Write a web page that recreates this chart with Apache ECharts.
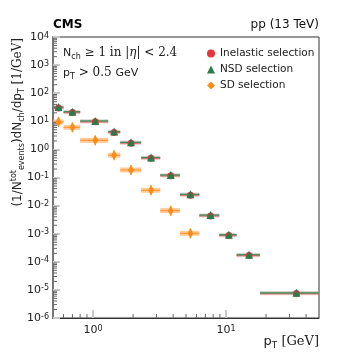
<!DOCTYPE html>
<html>
<head>
<meta charset="utf-8">
<script src="https://cdn.jsdelivr.net/npm/echarts@6/dist/echarts.min.js"></script>
<style>
  html, body { margin: 0; padding: 0; background: #fff; }
  #chart { width: 354px; height: 354px; }
</style>
</head>
<body>
<div id="chart"></div>
<script>
// pT bins (GeV)
var binLo = [0.5, 0.6, 0.8, 1.3, 1.6, 2.3, 3.2, 4.5, 6.3, 8.9, 12, 18]
var binHi = [0.6, 0.8, 1.3, 1.6, 2.3, 3.2, 4.5, 6.3, 8.9, 12, 18, 50]
var binCenter = [0.55, 0.7, 1.04, 1.44, 1.93, 2.73, 3.84, 5.4, 7.65, 10.5, 14.9, 33.8]

// (1/N) dN/dpT
var inelastic = [30, 20.5, 9.6, 4.0, 1.67, 0.48, 0.115, 0.0235, 0.0043, 0.00086, 0.000167, 0.0000074]
var nsd = [32, 22, 10.3, 4.3, 1.79, 0.515, 0.123, 0.0252, 0.0046, 0.00092, 0.000179, 0.0000079]
var sd = [9.5, 6.1, 2.1, 0.62, 0.185, 0.035, 0.0066, 0.00103]

var seriesNames = ['Inelastic selection', 'NSD selection', 'SD selection']

var sans = 'DejaVu Sans'
var serif = 'DejaVu Serif'

var chart = echarts.init(document.getElementById('chart'))

function rows (vals) {
  return vals.map(function (v, i) { return [binCenter[i], binLo[i], binHi[i], v] })
}

// horizontal bin-width bars, drawn through the axes
function barSeries (id, vals, core, band, bandWidth, vErr) {
  return {
    id: id,
    name: id,
    type: 'custom',
    z: 2,
    silent: true,
    encode: { x: [1, 2], y: 3 },
    data: rows(vals),
    renderItem: function (params, api) {
      var y = api.value(3)
      var p1 = api.coord([api.value(1), y])
      var p2 = api.coord([api.value(2), y])
      var pc = api.coord([api.value(0), y])
      var kids = [
        { type: 'line', shape: { x1: p1[0], y1: p1[1], x2: p2[0], y2: p2[1] }, style: { stroke: band, lineWidth: bandWidth } },
        { type: 'line', shape: { x1: p1[0], y1: p1[1], x2: p2[0], y2: p2[1] }, style: { stroke: core, lineWidth: 1.2 } }
      ]
      if (vErr) {
        kids.push({ type: 'line', shape: { x1: pc[0], y1: pc[1] - 5, x2: pc[0], y2: pc[1] + 5 }, style: { stroke: core, lineWidth: 1.5 } })
      }
      return { type: 'group', children: kids }
    }
  }
}

function pointSeries (name, vals, symbol, size, color) {
  return {
    name: name,
    type: 'scatter',
    z: 5,
    symbol: symbol,
    symbolSize: size,
    itemStyle: { color: color, opacity: 1 },
    data: vals.map(function (v, i) { return [binCenter[i], v] })
  }
}

function powLabel (value) {
  var e = Math.round(Math.log10(value))
  if (Math.abs(Math.log10(value) - e) > 1e-6) return ''
  return '10{sup|' + e + '}'
}

var labelRich = {
  sup: { fontSize: 8, verticalAlign: 'top', lineHeight: 8, fontFamily: sans, color: '#222' }
}

var textRich = {
  n: { fontSize: 11, fontFamily: sans, lineHeight: 15, fill: '#222' },
  m: { fontSize: 12, fontFamily: serif, lineHeight: 15, fill: '#222' },
  mi: { fontSize: 12, fontFamily: serif, fontStyle: 'italic', lineHeight: 15, fill: '#222' },
  sub: { fontSize: 8, fontFamily: sans, lineHeight: 8, verticalAlign: 'bottom', fill: '#222' }
}

var option = {
  backgroundColor: '#fff',
  animation: false,
  grid: {
    left: 53,
    right: 35,
    top: 37,
    bottom: 36,
    show: true,
    borderColor: '#333',
    borderWidth: 1,
    backgroundColor: 'transparent'
  },
  legend: {
    data: seriesNames,
    orient: 'vertical',
    left: 202,
    top: 41,
    itemWidth: 8,
    itemHeight: 8,
    itemGap: 1,
    textStyle: { fontSize: 10.5, fontFamily: sans, color: '#222', lineHeight: 15 }
  },
  xAxis: {
    type: 'log',
    logBase: 10,
    min: 0.5,
    max: 50,
    splitNumber: 2,
    splitLine: { show: false },
    axisLine: { lineStyle: { color: '#333', width: 1 } },
    axisTick: { inside: true, length: 8, lineStyle: { color: '#c8c8c8', width: 2 } },
    axisLabel: {
      formatter: powLabel,
      showMinLabel: false,
      showMaxLabel: false,
      margin: 7,
      fontSize: 11,
      fontFamily: sans,
      color: '#222',
      rich: labelRich
    }
  },
  yAxis: {
    type: 'log',
    logBase: 10,
    min: 1e-6,
    max: 1e4,
    interval: 1,
    splitLine: { show: false },
    axisLine: { lineStyle: { color: '#777', width: 2 } },
    axisTick: { inside: true, length: 7, lineStyle: { color: '#c8c8c8', width: 2 } },
    axisLabel: {
      formatter: powLabel,
      margin: 4,
      fontSize: 11,
      fontFamily: sans,
      color: '#222',
      rich: labelRich
    }
  },
  series: [
    barSeries('inel-bars', inelastic, '#e8484c', 'rgba(235,120,120,0.35)', 3.5, false),
    barSeries('nsd-bars', nsd, '#3d8a55', 'rgba(160,175,165,0.45)', 3.5, false),
    barSeries('sd-bars', sd, '#ff9a33', 'rgba(255,175,100,0.65)', 5, true),
    pointSeries('Inelastic selection', inelastic, 'circle', 7, '#e8323c'),
    pointSeries('NSD selection', nsd, 'triangle', 8, '#2f7a4a'),
    pointSeries('SD selection', sd, 'diamond', [6, 10], '#ff8c1a')
  ],
  graphic: [
    {
      type: 'text', left: 53, top: 19,
      style: { text: 'CMS', font: 'bold 12px "DejaVu Sans"', fill: '#000' }
    },
    {
      type: 'text', right: 35, top: 19,
      style: { text: 'pp (13 TeV)', font: '12px "DejaVu Sans"', fill: '#111' }
    },
    {
      type: 'text', x: 63, y: 53,
      style: {
        text: '{n|N}{sub|ch}{m| ≥ 1 in |}{mi|η}{m|| < 2.4}',
        verticalAlign: 'middle',
        rich: textRich
      }
    },
    {
      type: 'text', x: 63, y: 73,
      style: {
        text: '{n|p}{sub|T}{m| > 0.5 }{n|GeV}',
        verticalAlign: 'middle',
        rich: textRich
      }
    },
    {
      type: 'text', x: 319, y: 342,
      style: {
        text: '{n|p}{sub|T}{m| [GeV]}',
        align: 'right',
        verticalAlign: 'middle',
        rich: {
          n: { fontSize: 13, fontFamily: sans, lineHeight: 17, fill: '#222' },
          m: { fontSize: 13, fontFamily: serif, lineHeight: 17, fill: '#222' },
          sub: { fontSize: 9, fontFamily: sans, lineHeight: 9, verticalAlign: 'bottom', fill: '#222' }
        }
      }
    },
    {
      type: 'text', x: 18, y: 38, rotation: Math.PI / 2,
      style: {
        text: '{m|(1/N}{sup|tot}{sub|events}{m|)dN}{sub|ch}{m|/dp}{sub|T}{s| [1/GeV]}',
        align: 'right',
        verticalAlign: 'middle',
        rich: {
          m: { fontSize: 12, fontFamily: sans, lineHeight: 16, fill: '#222' },
          s: { fontSize: 12, fontFamily: serif, lineHeight: 16, fill: '#222' },
          sub: { fontSize: 8, fontFamily: sans, lineHeight: 8, verticalAlign: 'bottom', fill: '#222' },
          sup: { fontSize: 8, fontFamily: sans, lineHeight: 8, verticalAlign: 'top', fill: '#222' }
        }
      }
    }
  ]
}

chart.setOption(option)

// minor log ticks (2..9 per decade), placed with the chart's own scales
function minorTicks () {
  var els = []
  var xs = [0.6, 0.7, 0.8, 0.9, 2, 3, 4, 5, 6, 7, 8, 9, 20, 30, 40]
  var bottom = chart.convertToPixel({ gridIndex: 0 }, [1, 1e-6])[1]
  var left = chart.convertToPixel({ gridIndex: 0 }, [0.5, 1])[0]
  xs.forEach(function (v) {
    var px = chart.convertToPixel({ gridIndex: 0 }, [v, 1e-6])[0]
    els.push({ type: 'line', shape: { x1: px, y1: bottom, x2: px, y2: bottom - 4 }, style: { stroke: '#666', lineWidth: 1 }, z: 3 })
  })
  for (var d = -6; d < 4; d++) {
    for (var k = 2; k < 10; k++) {
      var py = chart.convertToPixel({ gridIndex: 0 }, [1, k * Math.pow(10, d)])[1]
      els.push({ type: 'line', shape: { x1: left, y1: py, x2: left + 4, y2: py }, style: { stroke: '#666', lineWidth: 1 }, z: 3 })
    }
  }
  return els
}

chart.setOption({ graphic: option.graphic.concat(minorTicks()) })
</script>
</body>
</html>
